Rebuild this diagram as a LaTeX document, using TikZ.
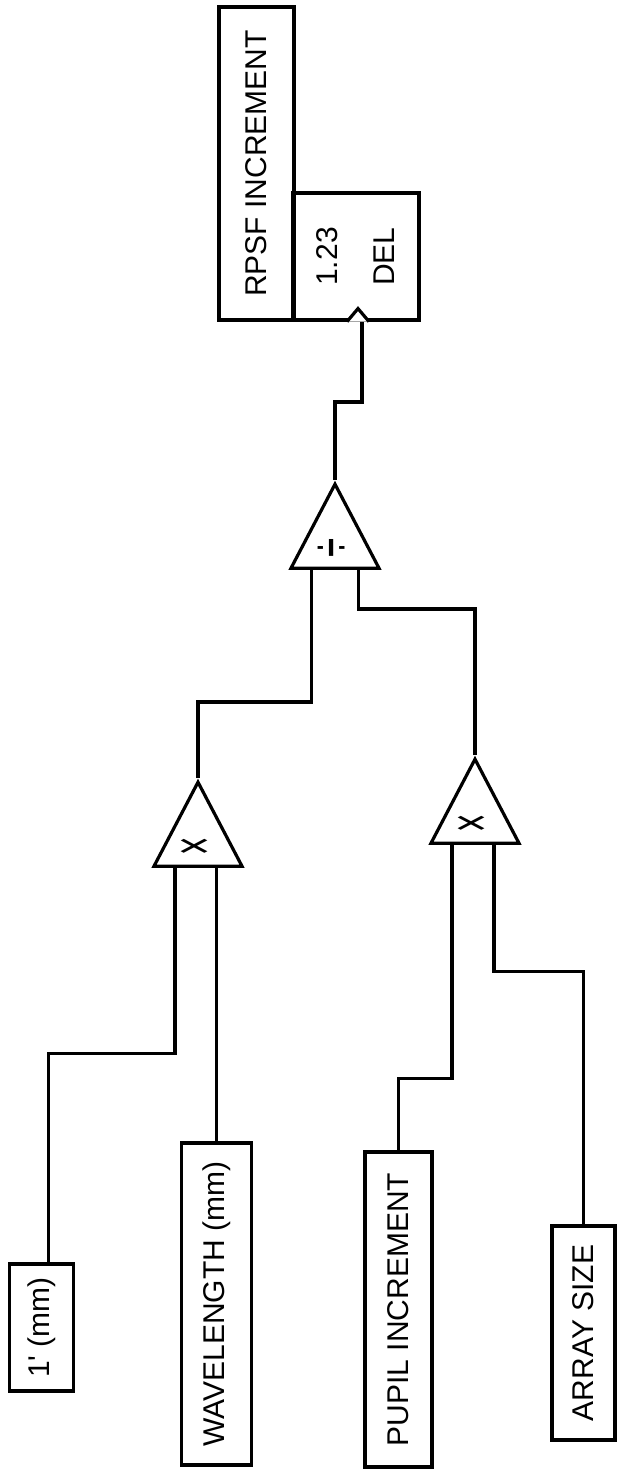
\documentclass[tikz,border=0pt]{standalone}
\usepackage{fontspec}
\setmainfont{Liberation Sans}
\usetikzlibrary{shapes.geometric, calc}
\tikzset{
    lblbox/.style={
        rectangle, draw=black, rotate=90,
        inner sep=0pt, align=center,
        font=\fontsize{30}{36}\selectfont,
        line width=3.2pt,
    },
    opnode/.style={
        isosceles triangle, isosceles triangle stretches,
        draw=black, rotate=90, anchor=apex,
        minimum width=88pt, minimum height=84pt,
        inner sep=0pt,
        font=\fontsize{30}{36}\selectfont,
        line width=3.2pt,
    },
    wire/.style={
        line width=3.2pt, color=black
    },
}
\newcommand{\mulsign}{\scalebox{1.05}[2.0]{×}}
\newcommand{\divsign}{{\fontsize{60}{60}\selectfont\scalebox{0.58}[1]{÷}}}

\begin{document}
\begin{tikzpicture}[x=1pt, y=-1pt]
    \useasboundingbox (0,0) rectangle (616,1469);

    % -- inputs --
    \node[lblbox, minimum width=127pt, minimum height=64pt] (focal) at (41.5,1327.5) {1\textquotesingle{} (mm)};
    \node[lblbox, minimum width=322pt, minimum height=70pt] (wave)  at (216.5,1304) {WAVELENGTH (mm)};
    \node[lblbox, minimum width=315pt, minimum height=67pt] (pupil) at (398.5,1309.5) {PUPIL INCREMENT};
    \node[lblbox, minimum width=214pt, minimum height=63pt] (array) at (583.5,1333) {ARRAY SIZE};

    % -- operators --
    \node[opnode] (mulA) at (198,778) {\mulsign};
    \node[opnode] (mulB) at (475,755) {\mulsign};
    \node[opnode] (div)  at (335,480) {\divsign};

    % -- output --
    \node[lblbox, minimum width=127pt, minimum height=126pt,
          font=\fontsize{30}{57}\selectfont] (del) at (356,256.5) {1.23\\DEL};
    \node[lblbox, minimum width=313pt, minimum height=75pt] (rpsf) at (256.5,163.5) {RPSF INCREMENT};

    % -- wires into first multiplier --
    \draw[wire] ([xshift=7pt]focal.east) -- ++(0,-209) -| ([xshift=-23pt]mulA.lower side);
    \draw[wire] (wave.east) -- (wave.east |- mulA.lower side);

    % -- wires into second multiplier --
    \draw[wire] (pupil.east) -- ++(0,-72) -| ([xshift=-23pt]mulB.lower side);
    \draw[wire] (array.east) -- ++(0,-253) -| ([xshift=19pt]mulB.lower side);

    % -- products into divider --
    \draw[wire] (mulA.apex) -- ++(0,-76) -| ([xshift=-23.5pt]div.lower side);
    \draw[wire] (mulB.apex) -- ++(0,-146) -| ([xshift=23.5pt]div.lower side);

    % -- quotient into delay --
    \draw[wire] (div.apex) -- ++(0,-78) -| ([xshift=6pt]del.west);
    \draw[wire, fill=white] ([xshift=-9pt]del.west) -- ([xshift=2pt,yshift=13pt]del.west)
        -- ([xshift=13pt]del.west);

\end{tikzpicture}
\end{document}
